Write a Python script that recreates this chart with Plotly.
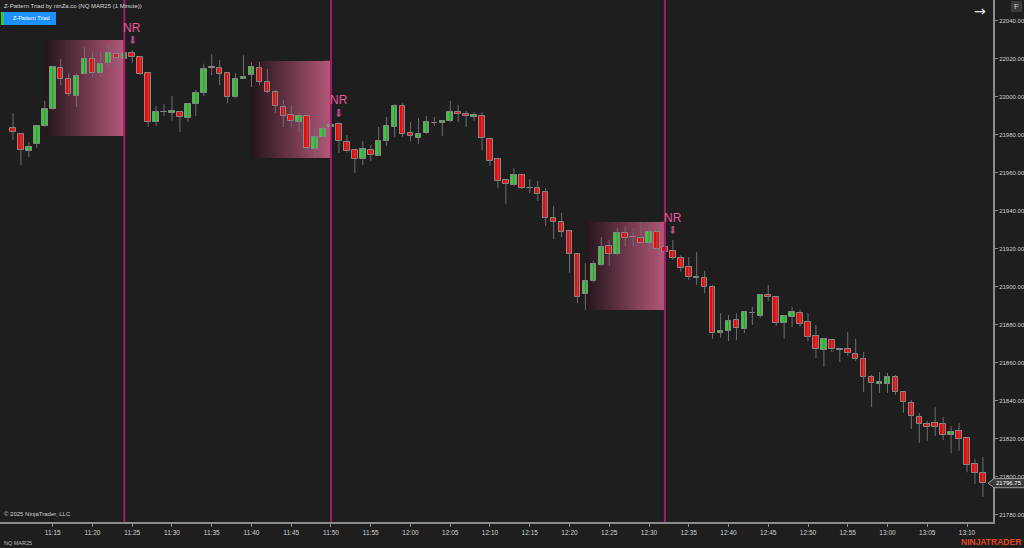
import plotly.graph_objects as go
import pandas as pd

# ---------------- data (NQ MAR25, 1 minute bars from 11:10) ----------------
opens = [21983.75, 21980.5, 21971.5, 21975.25, 21984.75, 21993.75, 22015.25, 22009.5, 22000.5, 22012.0,
         22020.0, 22012.5, 22018.0, 22022.5, 22020.0, 22023.25, 22021.0, 22012.5, 21986.75, 21992.0,
         21991.5, 21992.0, 21989.0, 21996.25, 22002.0, 22015.25, 22015.25, 22012.5, 22000.0, 22009.5,
         22011.5, 22015.25, 22008.0, 22002.5, 21994.75, 21990.5, 21986.75, 21990.0, 21972.5, 21979.0,
         21984.25, 21985.75, 21976.25, 21972.0, 21967.5, 21972.0, 21969.0, 21976.75, 21984.25, 21995.25,
         21981.0, 21978.5, 21981.0, 21986.25, 21986.25, 21987.5, 21992.0, 21991.0, 21989.5, 21990.0,
         21978.0, 21967.5, 21956.25, 21953.75, 21959.0, 21952.0, 21952.0, 21950.0, 21936.25, 21934.25,
         21929.5, 21917.5, 21896.25, 21903.25, 21911.5, 21921.5, 21917.5, 21928.5, 21926.25, 21925.75,
         21923.0, 21929.0, 21921.0, 21919.0, 21915.25, 21910.5, 21905.25, 21904.75, 21900.0, 21875.75,
         21877.0, 21882.5, 21878.0, 21886.25, 21884.75, 21895.75, 21894.75, 21881.0, 21884.25, 21886.25,
         21881.5, 21874.25, 21867.0, 21872.0, 21867.0, 21867.5, 21864.75, 21862.0, 21852.5, 21849.0,
         21849.0, 21852.5, 21844.75, 21839.0, 21831.5, 21828.0, 21828.5, 21828.0, 21822.0, 21824.25,
         21820.5, 21806.75, 21802.0]
highs = [21991.5, 21981.0, 21976.25, 21985.25, 21998.0, 22016.25, 22020.0, 22012.5, 22012.5, 22026.25,
         22023.75, 22023.75, 22027.5, 22029.5, 22025.25, 22024.75, 22021.5, 22013.25, 21995.25, 21996.25,
         22000.5, 21992.5, 21996.75, 22003.75, 22017.5, 22022.5, 22019.5, 22013.25, 22012.5, 22022.0,
         22018.5, 22018.5, 22014.75, 22003.75, 21998.5, 21995.75, 21991.5, 21990.5, 21984.25, 21986.75,
         21987.5, 21986.75, 21980.0, 21972.25, 21976.75, 21974.75, 21984.25, 21989.5, 21996.25, 21996.75,
         21986.75, 21989.0, 21990.0, 21989.5, 21988.0, 21998.0, 21995.75, 21992.5, 21992.0, 21992.0,
         21978.5, 21968.0, 21956.75, 21962.5, 21959.0, 21956.75, 21955.75, 21952.0, 21942.5, 21939.0,
         21930.0, 21917.5, 21912.5, 21913.75, 21926.25, 21924.75, 21931.0, 21931.5, 21931.0, 21934.25,
         21933.75, 21933.75, 21923.75, 21924.75, 21916.75, 21915.75, 21918.5, 21908.5, 21901.0, 21886.25,
         21885.25, 21886.25, 21887.5, 21889.5, 21896.25, 21901.0, 21895.25, 21885.25, 21889.5, 21888.0,
         21886.25, 21880.0, 21873.25, 21872.75, 21867.5, 21876.25, 21872.75, 21865.75, 21853.75, 21855.25,
         21854.75, 21853.75, 21844.75, 21840.5, 21833.75, 21829.5, 21836.75, 21831.5, 21826.75, 21828.5,
         21820.5, 21809.5, 21810.5]
lows = [21977.5, 21964.25, 21968.5, 21973.25, 21984.25, 21993.25, 22006.25, 22000.5, 21994.75, 22012.0,
        22010.5, 22010.5, 22015.75, 22015.25, 22019.5, 22018.0, 22011.5, 21984.25, 21984.75, 21990.0,
        21987.5, 21981.5, 21986.75, 21990.0, 22000.5, 22011.5, 22006.25, 21996.75, 21999.5, 22009.5,
        22005.25, 22006.25, 22002.0, 21991.5, 21984.25, 21984.25, 21981.5, 21972.0, 21968.0, 21975.75,
        21982.5, 21970.5, 21970.5, 21960.0, 21964.25, 21966.25, 21969.0, 21974.25, 21979.0, 21979.0,
        21976.75, 21975.25, 21980.5, 21984.75, 21979.5, 21986.75, 21986.75, 21984.25, 21987.5, 21972.0,
        21963.75, 21952.0, 21943.75, 21953.25, 21951.5, 21949.5, 21945.25, 21932.0, 21925.25, 21926.25,
        21907.5, 21891.5, 21888.0, 21902.5, 21911.0, 21911.0, 21916.75, 21921.5, 21921.5, 21922.5,
        21918.5, 21918.0, 21915.75, 21914.25, 21908.0, 21903.75, 21901.0, 21896.75, 21872.75, 21873.25,
        21871.5, 21872.0, 21875.75, 21880.0, 21883.75, 21892.5, 21879.5, 21872.75, 21879.0, 21879.0,
        21871.5, 21862.5, 21858.0, 21865.75, 21860.5, 21863.75, 21861.0, 21844.75, 21836.75, 21844.25,
        21844.25, 21843.25, 21833.75, 21825.25, 21818.0, 21819.0, 21821.5, 21819.5, 21812.5, 21813.75,
        21802.5, 21796.25, 21789.5]
closes = [21981.5, 21972.0, 21973.75, 21984.75, 21993.75, 22015.75, 22009.5, 22001.5, 22011.0, 22020.0,
          22012.5, 22017.5, 22023.25, 22020.5, 22023.25, 22021.0, 22012.0, 21986.75, 21992.0, 21992.0,
          21992.5, 21989.5, 21996.25, 22002.0, 22014.75, 22015.25, 22012.0, 22000.0, 22009.5, 22010.5,
          22015.75, 22008.0, 22002.5, 21995.25, 21990.0, 21987.5, 21990.0, 21973.25, 21979.0, 21983.25,
          21985.25, 21976.75, 21971.5, 21967.5, 21972.5, 21969.5, 21976.75, 21984.75, 21995.25, 21980.5,
          21979.5, 21980.5, 21986.75, 21986.25, 21987.5, 21992.0, 21991.0, 21990.0, 21990.5, 21978.5,
          21966.25, 21955.75, 21954.25, 21959.0, 21952.0, 21952.0, 21949.0, 21936.25, 21934.25, 21929.0,
          21917.5, 21894.75, 21903.25, 21912.0, 21921.0, 21917.5, 21928.5, 21925.75, 21926.25, 21923.0,
          21929.0, 21920.0, 21918.5, 21915.25, 21910.0, 21905.25, 21904.75, 21900.0, 21875.75, 21877.0,
          21882.0, 21878.5, 21886.75, 21886.25, 21895.75, 21894.75, 21881.0, 21884.75, 21886.75, 21880.5,
          21873.75, 21867.5, 21872.75, 21867.5, 21867.0, 21865.25, 21862.0, 21852.5, 21849.5, 21850.0,
          21852.5, 21844.75, 21839.5, 21832.0, 21828.0, 21826.25, 21826.25, 21822.0, 21823.75, 21820.0,
          21806.25, 21802.0, 21796.75]
times = pd.date_range("2025-01-15 11:10", periods=len(opens), freq="1min")

# Z-Pattern boxes and NR signals
box_starts = ["2025-01-15 11:14", "2025-01-15 11:40", "2025-01-15 12:22"]
box_ends = ["2025-01-15 11:24", "2025-01-15 11:50", "2025-01-15 12:32"]
box_tops = [22030.0, 22019.0, 21934.25]
box_bottoms = [21979.5, 21968.0, 21888.0]
nr_times = ["2025-01-15 11:25", "2025-01-15 11:51", "2025-01-15 12:33"]

y_ticks = [21780, 21800, 21820, 21840, 21860, 21880, 21900, 21920, 21940, 21960, 21980, 22000, 22020, 22040]
x_ticks = ["11:15", "11:20", "11:25", "11:30", "11:35", "11:40", "11:45", "11:50", "11:55", "12:00",
           "12:05", "12:10", "12:15", "12:20", "12:25", "12:30", "12:35", "12:40", "12:45", "12:50",
           "12:55", "13:00", "13:05", "13:10"]

# ---------------- styling ----------------
BG = "#1e1e1e"
UP = "#32cd32"
DOWN = "#ff0000"
DOJI = "#c8c8c8"
WICK = "#6e6e6e"
OUTLINE = "#8a8a8a"
LINE_COL = "#a3196b"
FONT = "Liberation Sans, Arial, sans-serif"

fig = go.Figure()

# wicks
wx, wy = [], []
for t, h, l in zip(times, highs, lows):
    wx += [t, t, None]
    wy += [h, l, None]
fig.add_trace(go.Scatter(x=wx, y=wy, mode="lines", line=dict(color=WICK, width=1),
                         hoverinfo="skip", showlegend=False))

# bodies
bases, heights, cols = [], [], []
for o, c in zip(opens, closes):
    if c > o:
        cols.append(UP)
    elif c < o:
        cols.append(DOWN)
    else:
        cols.append(DOJI)
    bases.append(min(o, c))
    heights.append(abs(c - o) if c != o else 0.3)
fig.add_trace(go.Bar(x=times, y=heights, base=bases, width=42000,
                     marker=dict(color=cols, line=dict(color=OUTLINE, width=1)),
                     showlegend=False, hoverinfo="skip"))

shapes = []
# gradient boxes (overlapping slices, so no seams)
n_slices = 40
c0 = (36, 22, 29)
c1 = (180, 88, 122)
for s, e, top, bot in zip(box_starts, box_ends, box_tops, box_bottoms):
    ts, te = pd.Timestamp(s), pd.Timestamp(e)
    span = te - ts
    for k in range(n_slices):
        f = (k + 0.5) / n_slices
        col = "rgb({},{},{})".format(*[int(a + (b - a) * f) for a, b in zip(c0, c1)])
        shapes.append(dict(type="rect", xref="x", yref="y", layer="below",
                           x0=ts + span * k / n_slices, x1=te,
                           y0=bot, y1=top, fillcolor=col, line=dict(width=0)))
# vertical lines at pattern ends
for e in box_ends:
    shapes.append(dict(type="line", xref="x", yref="paper", x0=e, x1=e, y0=0, y1=1,
                       line=dict(color=LINE_COL, width=2)))

# button at top-left
shapes.append(dict(type="rect", xref="paper", yref="paper", x0=4 / 993, x1=56 / 993,
                   y0=1 - 25 / 522, y1=1 - 12 / 522, fillcolor="#1e90ff", line=dict(width=0)))
shapes.append(dict(type="rect", xref="paper", yref="paper", x0=1 / 993, x1=4 / 993,
                   y0=1 - 25 / 522, y1=1 - 12 / 522, fillcolor="#2ecc40", line=dict(width=0)))
# "F" box at top-right
shapes.append(dict(type="rect", xref="paper", yref="paper", x0=1011 / 993, x1=1022 / 993,
                   y0=1 - 12 / 522, y1=1 - 1 / 522, fillcolor="#3a3a3a", line=dict(width=0)))

# last price marker
lp = closes[-1]
shapes.append(dict(type="path", xref="paper", yref="y",
                   path=f"M {988/993},{lp} L {994/993},{lp + 2.4} L {1026/993},{lp + 2.4} "
                        f"L {1026/993},{lp - 2.4} L {994/993},{lp - 2.4} Z",
                   fillcolor="#3a3a3a", line=dict(color="#9a9a9a", width=1)))

annotations = []
# NR labels and arrows
for t in nr_times:
    idx = list(times).index(pd.Timestamp(t))
    h = highs[idx]
    annotations.append(dict(x=t, y=h, xref="x", yref="y", text="NR", showarrow=False,
                            yshift=22, font=dict(family=FONT, size=12, color="#e8579a")))
    annotations.append(dict(x=t, y=h, xref="x", yref="y", text="⬇", showarrow=False,
                            yshift=9, font=dict(family="DejaVu Sans", size=11, color="#b0477e")))

annotations += [
    dict(xref="paper", yref="paper", x=0, y=1, xanchor="left", yanchor="top", xshift=2, yshift=-1,
         text="Z-Pattern Triad by ninZa.co (NQ MAR25 (1 Minute))", showarrow=False,
         font=dict(family=FONT, size=6, color="#d8d8d8")),
    dict(xref="paper", yref="paper", x=31 / 993, y=1 - 18.5 / 522, xanchor="center", yanchor="middle",
         text="Z-Pattern Triad", showarrow=False, font=dict(family=FONT, size=5.5, color="#ffffff")),
    dict(xref="paper", yref="paper", x=0, y=0, xanchor="left", yanchor="bottom", xshift=2, yshift=3,
         text="© 2025 NinjaTrader, LLC", showarrow=False, font=dict(family=FONT, size=6, color="#d0d0d0")),
    dict(xref="paper", yref="paper", x=0, y=0, xanchor="left", yanchor="middle", xshift=2, yshift=-21,
         text="NQ MAR25", showarrow=False, font=dict(family=FONT, size=5.5, color="#bdbdbd")),
    dict(xref="paper", yref="paper", x=1024 / 993, y=0, xanchor="right", yanchor="middle", xshift=-1,
         yshift=-20, text="<b>NINJATRADER</b>", showarrow=False,
         font=dict(family=FONT, size=8.5, color="#e8441e")),
    dict(xref="paper", yref="paper", x=980 / 993, y=1 - 11 / 522, xanchor="center", yanchor="middle",
         text="→", showarrow=False, font=dict(family="DejaVu Sans", size=14, color="#e6e6e6")),
    dict(xref="paper", yref="paper", x=1016.5 / 993, y=1 - 6.5 / 522, xanchor="center", yanchor="middle",
         text="F", showarrow=False, font=dict(family=FONT, size=8, color="#cfcfcf")),
    dict(xref="paper", yref="y", x=1009 / 993, y=lp, xanchor="center", yanchor="middle",
         text=f"{lp:.2f}", showarrow=False, font=dict(family=FONT, size=6, color="#ffffff")),
]

x0 = times[0] - pd.Timedelta(seconds=98)
x1 = times[0] + pd.Timedelta(minutes=123.27)
x_tickvals = [pd.Timestamp("2025-01-15 " + s) for s in x_ticks]

fig.update_layout(
    template="none",
    width=1024, height=548,
    margin=dict(l=0, r=31, t=0, b=26),
    paper_bgcolor=BG, plot_bgcolor=BG,
    shapes=shapes, annotations=annotations,
    bargap=0,
    showlegend=False,
    xaxis=dict(type="date", range=[x0, x1], showgrid=False, zeroline=False,
               showline=True, linecolor="#8c8c8c", linewidth=2, mirror=False,
               ticks="outside", ticklen=3, tickcolor="#8c8c8c",
               tickvals=x_tickvals, ticktext=x_ticks,
               tickfont=dict(family=FONT, size=6.5, color="#d0d0d0"), automargin=False,
               fixedrange=True),
    yaxis=dict(side="right", range=[21776.3, 22051.05], showgrid=False, zeroline=False,
               showline=True, linecolor="#8c8c8c", linewidth=2,
               ticks="outside", ticklen=3, tickcolor="#8c8c8c",
               tickvals=y_ticks, ticktext=[f"{v:.2f}" for v in y_ticks],
               tickfont=dict(family=FONT, size=6, color="#d0d0d0"), automargin=False,
               fixedrange=True),
)

fig.write_html("out.html", config={"displayModeBar": False},
               post_script="document.body.style.margin='0';document.body.style.overflow='hidden';")
